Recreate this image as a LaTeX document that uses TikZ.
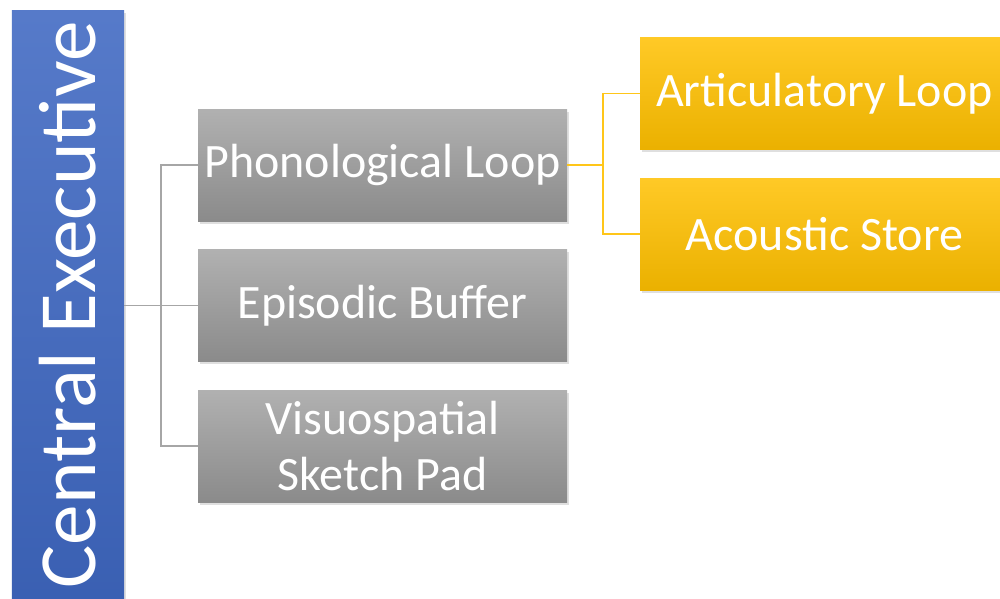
\documentclass[tikz,border=0pt]{standalone}
\usepackage{fontspec}
\setmainfont{Carlito}
\usetikzlibrary{shadows}
\definecolor{ceblue}{HTML}{3F68C2}
\definecolor{boxgray}{HTML}{A3A3A3}
\definecolor{boxgold}{HTML}{FFC000}
\tikzset{
  lvlbox/.style={minimum width=7.38cm, minimum height=2.24cm, inner sep=0pt,
    align=center, text=white, font=\fontsize{27.3}{32}\selectfont,
    drop shadow={opacity=0.25, shadow xshift=0.04cm, shadow yshift=-0.05cm}},
  graybox/.style={lvlbox, top color=boxgray!85!white, bottom color=boxgray!85!black},
  goldbox/.style={lvlbox, top color=boxgold!85!white, bottom color=boxgold!92!black},
  grayline/.style={draw=black!35, line width=0.6pt},
  goldline/.style={draw=boxgold!90!white, line width=0.6pt}
}
\begin{document}
\begin{tikzpicture}
        \clip (0,0) rectangle (20,-11.98);
        \fill[white] (0,0) rectangle (20,-11.98);

        \node[minimum width=11.8cm, minimum height=2.24cm, inner sep=0pt, rotate=90,
          top color=ceblue!88!white, bottom color=ceblue!92!black,
          drop shadow={opacity=0.25, shadow xshift=0.04cm, shadow yshift=-0.05cm},
          text=white, font=\fontsize{46.2}{50}\selectfont] (ce) at (1.36,-6.1) {Central Executive};

        \node[graybox] (pl) at (7.65,-3.3) {Phonological Loop};
        \node[graybox] (eb) at (7.65,-6.11) {Episodic Buffer};
        \node[graybox] (vs) at (7.65,-8.92) {Visuospatial\\Sketch Pad};

        \node[goldbox] (al) at (16.49,-1.87) {Articulatory Loop};
        \node[goldbox] (as) at (16.49,-4.68) {Acoustic Store};

        \coordinate (gj) at (3.22,-6.11);
        \coordinate (yj) at (12.06,-3.3);

        \draw[grayline] (ce.south |- eb.west) -- (eb.west);
        \draw[grayline] (pl.west) -| (gj) |- (vs.west);
        \draw[goldline] (pl.east) -- (yj);
        \draw[goldline] (al.west) -| (yj) |- (as.west);
      \end{tikzpicture}
\end{document}
